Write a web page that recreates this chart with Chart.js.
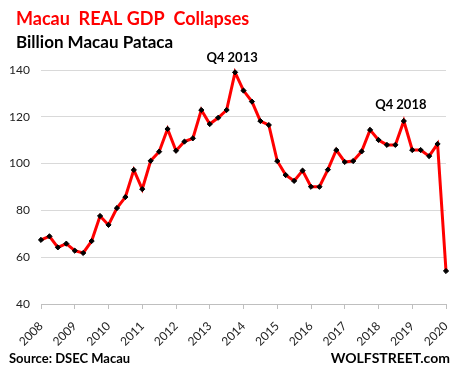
<!DOCTYPE html>
<html>
<head>
<meta charset="utf-8">
<script src="https://cdn.jsdelivr.net/npm/chart.js@4.4.1/dist/chart.umd.min.js"></script>
<style>
  html, body { margin: 0; padding: 0; background: #fff; }
  #wrap { width: 459px; height: 376px; }
</style>
</head>
<body>
<div id="wrap"><canvas id="gdp" width="459" height="376"></canvas></div>
<script>
// quarters 2008 Q1 .. 2020 Q1
const years = [2008, 2009, 2010, 2011, 2012, 2013, 2014, 2015, 2016, 2017, 2018, 2019, 2020];
const quarters = [];
years.forEach((y) => {
  for (let q = 1; q <= 4; q++) {
    if (y === 2020 && q > 1) break;
    quarters.push(y + " Q" + q);
  }
});

// real GDP, billion pataca
const gdpValues = [
  67.4, 68.9, 64.2, 65.8,
  62.8, 61.8, 66.9, 77.6,
  73.8, 81.0, 85.7, 97.3,
  89.1, 101.2, 105.1, 114.8,
  105.5, 109.4, 110.8, 122.9,
  116.9, 119.6, 122.9, 139.0,
  131.2, 126.5, 118.2, 116.5,
  101.1, 95.1, 92.6, 97.0,
  90.1, 90.1, 97.4, 105.8,
  100.7, 101.1, 105.2, 114.4,
  110.1, 108.0, 108.0, 118.2,
  105.8, 105.8, 103.2, 108.4,
  54.1,
];

const yTicks = [40, 60, 80, 100, 120, 140];

// annotated peaks
const callouts = [
  { label: "Q4 2013", index: 23, dy: -10 },
  { label: "Q4 2018", index: 43, dy: -12 },
];

const textPlugin = {
  id: "texts",
  afterDraw(chart) {
    const ctx = chart.ctx;
    ctx.save();
    ctx.textBaseline = "alphabetic";
    ctx.textAlign = "left";

    ctx.fillStyle = "#ff0000";
    ctx.font = "bold 18px Lato";
    ctx.fillText("Macau  REAL GDP  Collapses", 16, 25);

    ctx.fillStyle = "#000";
    ctx.font = "bold 17px Lato";
    ctx.fillText("Billion Macau Pataca", 16, 48);

    ctx.font = "bold 13px Lato";
    ctx.fillText("Source: DSEC Macau", 9, 363);
    ctx.font = "bold 14px Lato";
    ctx.textAlign = "right";
    ctx.fillText("WOLFSTREET.com", 450, 363);

    // peak labels
    const meta = chart.getDatasetMeta(0);
    ctx.textAlign = "center";
    ctx.font = "bold 13px Lato";
    callouts.forEach((c) => {
      const pt = meta.data[c.index];
      ctx.fillText(c.label, pt.x - 3, pt.y + c.dy);
    });
    ctx.restore();
  },
};

new Chart(document.getElementById("gdp"), {
  type: "line",
  data: {
    labels: quarters,
    datasets: [
      {
        data: gdpValues,
        borderColor: "#ff0000",
        borderWidth: 3,
        tension: 0,
        pointStyle: "rectRot",
        pointRadius: 2.6,
        pointBackgroundColor: "#000",
        pointBorderColor: "#000",
        pointBorderWidth: 1,
        clip: false,
      },
    ],
  },
  options: {
    responsive: false,
    animation: false,
    layout: { padding: { top: 70, right: 13, left: 0, bottom: 0 } },
    plugins: {
      legend: { display: false },
      tooltip: { enabled: false },
    },
    scales: {
      x: {
        type: "category",
        offset: false,
        afterFit: (s) => {
          s.height = 72;
          s.paddingLeft = 0;
          s.paddingRight = 0;
        },
        border: { display: true, color: "#bfbfbf", width: 1 },
        grid: {
          drawOnChartArea: false,
          drawTicks: true,
          tickLength: 5,
          color: "#bfbfbf",
        },
        ticks: {
          autoSkip: false,
          maxRotation: 45,
          minRotation: 45,
          padding: 10,
          color: "#222",
          font: { family: "Lato", size: 12 },
          callback: function (val, i) {
            const lab = quarters[i];
            return lab.endsWith("Q1") ? lab.slice(0, 4) : null;
          },
        },
      },
      y: {
        min: 40,
        max: 140,
        afterFit: (s) => { s.width = 41; },
        afterBuildTicks: (s) => { s.ticks = yTicks.map((v) => ({ value: v })); },
        border: { display: false },
        grid: { color: "#d9d9d9", drawTicks: false, lineWidth: 1 },
        ticks: {
          padding: 11,
          color: "#222",
          font: { family: "Lato", size: 12 },
        },
      },
    },
  },
  plugins: [textPlugin],
});
</script>
</body>
</html>
